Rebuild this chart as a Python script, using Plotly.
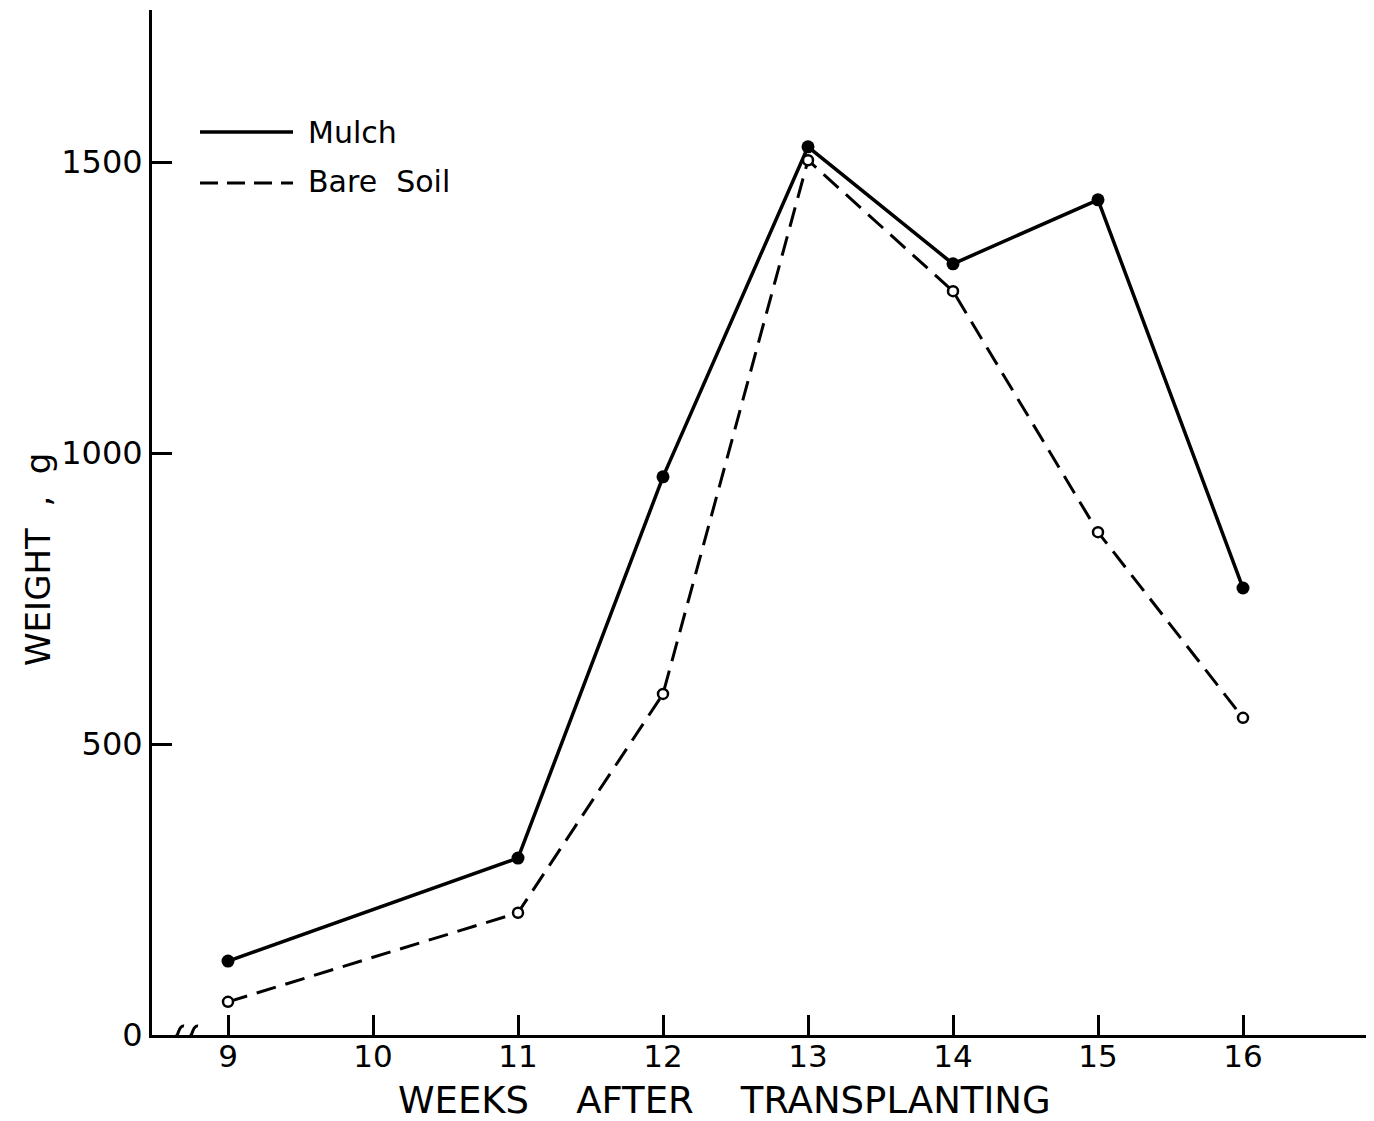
import plotly.graph_objects as go

weeks = [9, 11, 12, 13, 14, 15, 16]
mulch = [127, 304, 959, 1526, 1325, 1435, 768]
bare_soil = [57, 210, 586, 1503, 1278, 864, 545]
x_ticks = [9, 10, 11, 12, 13, 14, 15, 16]
y_ticks = [0, 500, 1000, 1500]
y_tick_labels = ["0", "500", "1000", "1500"]

FONT = "DejaVu Sans"
OFF = 8  # default page body margin
W, H = 1374 - OFF, 1121 - OFF
L, T, B = 152 - OFF, 10 - OFF, 1035 - OFF  # plot area edges in page pixels (shifted)
PW, PH = W - L, B - T

px_per_week = 145.0
x0 = 9 - 76 / px_per_week
x1 = 9 + (1374 - 228) / px_per_week
ymax = (1035 - 10) / 0.582

fig = go.Figure()
fig.add_trace(go.Scatter(x=weeks, y=mulch, mode="lines+markers", name="Mulch",
                         line=dict(color="black", width=3.5),
                         marker=dict(color="black", size=13), showlegend=False))
fig.add_trace(go.Scatter(x=weeks, y=bare_soil, mode="lines+markers", name="Bare Soil",
                         line=dict(color="black", width=3, dash="20px,10px"),
                         marker=dict(color="white", size=10, line=dict(color="black", width=2.5)),
                         showlegend=False))

# helpers converting reference-image pixels to data / paper coordinates
def xd(px):
    return x0 + (px - 152) / px_per_week

def yd(py):
    return (1035 - py) / 0.582

def xp(px):
    return (px - OFF - L) / PW

def yp(py):
    return (B - (py - OFF)) / PH

shapes = [
    dict(type="line", xref="x", yref="y", x0=xd(200), x1=xd(293), y0=yd(132), y1=yd(132),
         line=dict(color="black", width=3.5)),
    dict(type="line", xref="x", yref="y", x0=xd(200), x1=xd(293), y0=yd(183), y1=yd(183),
         line=dict(color="black", width=3, dash="18px,9px")),
]
# axis break squiggles
for cx in [177, 191]:
    path = (f"M {xd(cx-7)},{yd(1045)} C {xd(cx-2)},{yd(1047)} {xd(cx-2)},{yd(1037)} {xd(cx)},{yd(1035)} "
            f"C {xd(cx+2)},{yd(1033)} {xd(cx+2)},{yd(1025)} {xd(cx+7)},{yd(1026)}")
    shapes.append(dict(type="path", xref="x", yref="y", path=path,
                       line=dict(color="black", width=3)))

annotations = [
    dict(x=xd(306), y=yd(132), xref="x", yref="y", text="Mulch", showarrow=False,
         xanchor="left", yanchor="middle", font=dict(family=FONT, size=30, color="black")),
    dict(x=xd(306), y=yd(181), xref="x", yref="y", text="Bare&nbsp;&nbsp;Soil", showarrow=False,
         xanchor="left", yanchor="middle", font=dict(family=FONT, size=30, color="black")),
    dict(x=xp(724), y=yp(1100), xref="paper", yref="paper",
         text="WEEKS&nbsp;&nbsp;&nbsp;&nbsp;AFTER&nbsp;&nbsp;&nbsp;&nbsp;TRANSPLANTING",
         showarrow=False, xanchor="center", yanchor="middle",
         font=dict(family=FONT, size=37, color="black")),
    dict(x=xp(38), y=yp(560), xref="paper", yref="paper",
         text="WEIGHT&nbsp;&nbsp;,&nbsp;&nbsp;g", textangle=-90, showarrow=False,
         xanchor="center", yanchor="middle",
         font=dict(family=FONT, size=34, color="black")),
]

fig.update_layout(
    width=W, height=H,
    margin=dict(l=L, r=0, t=T, b=H - B, autoexpand=False),
    plot_bgcolor="white", paper_bgcolor="white",
    shapes=shapes, annotations=annotations,
    xaxis=dict(range=[x0, x1], tickvals=x_ticks, ticktext=[str(v) for v in x_ticks],
               ticks="inside", ticklen=20, tickwidth=3, tickcolor="black",
               showline=True, linecolor="black", linewidth=3, showgrid=False, zeroline=False,
               automargin=False, ticklabelstandoff=-8,
               tickfont=dict(family=FONT, size=31, color="black")),
    yaxis=dict(range=[0, ymax], tickvals=y_ticks, ticktext=y_tick_labels,
               ticks="inside", ticklen=20, tickwidth=3, tickcolor="black",
               showline=True, linecolor="black", linewidth=3, showgrid=False, zeroline=False,
               automargin=False,
               tickfont=dict(family=FONT, size=32, color="black")),
)

fig.write_html("out.html")
